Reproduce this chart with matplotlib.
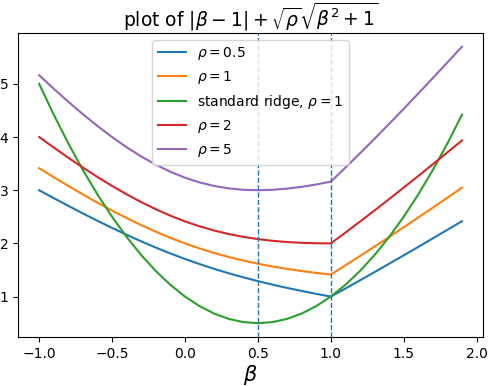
import matplotlib
matplotlib.use("Agg")
import matplotlib.pyplot as plt

beta = [-1.0, -0.9, -0.8, -0.7, -0.6, -0.5, -0.4, -0.3, -0.2, -0.1,
        0.0, 0.1, 0.2, 0.3, 0.4, 0.5, 0.6, 0.7, 0.8, 0.9,
        1.0, 1.1, 1.2, 1.3, 1.4, 1.5, 1.6, 1.7, 1.8, 1.9]

rho_05 = [3.000, 2.851, 2.706, 2.563, 2.425, 2.291, 2.162, 2.038, 1.921, 1.811,
          1.707, 1.611, 1.521, 1.438, 1.362, 1.291, 1.225, 1.163, 1.106, 1.051,
          1.000, 1.151, 1.305, 1.460, 1.617, 1.775, 1.934, 2.095, 2.256, 2.418]
rho_1 = [3.414, 3.245, 3.081, 2.921, 2.766, 2.618, 2.477, 2.344, 2.220, 2.105,
         2.000, 1.905, 1.820, 1.744, 1.677, 1.618, 1.566, 1.521, 1.481, 1.445,
         1.414, 1.587, 1.762, 1.940, 2.120, 2.303, 2.487, 2.672, 2.859, 3.047]
ridge = [5.00, 4.42, 3.88, 3.38, 2.92, 2.50, 2.12, 1.78, 1.48, 1.22,
         1.00, 0.82, 0.68, 0.58, 0.52, 0.50, 0.52, 0.58, 0.68, 0.82,
         1.00, 1.22, 1.48, 1.78, 2.12, 2.50, 2.92, 3.38, 3.88, 4.42]
rho_2 = [4.000, 3.803, 3.611, 3.426, 3.249, 3.081, 2.923, 2.776, 2.642, 2.521,
         2.414, 2.321, 2.242, 2.176, 2.123, 2.081, 2.049, 2.026, 2.011, 2.003,
         2.000, 2.202, 2.409, 2.619, 2.833, 3.050, 3.268, 3.489, 3.712, 3.936]
rho_5 = [5.162, 4.908, 4.664, 4.429, 4.208, 4.000, 3.808, 3.635, 3.480, 3.347,
         3.236, 3.147, 3.080, 3.035, 3.008, 3.000, 3.008, 3.030, 3.064, 3.108,
         3.162, 3.424, 3.693, 3.967, 4.247, 4.531, 4.819, 5.110, 5.404, 5.701]

vlines = [0.5, 1.0]

fig = plt.figure(figsize=(4.88, 3.86), dpi=100)
ax = fig.add_subplot(111)
fig.subplots_adjust(left=0.037, right=0.99, top=0.915, bottom=0.127)

ax.plot(beta, rho_05, label=r'$\rho=0.5$')
ax.plot(beta, rho_1, label=r'$\rho=1$')
ax.plot(beta, ridge, label=r'standard ridge, $\rho=1$')
ax.plot(beta, rho_2, label=r'$\rho=2$')
ax.plot(beta, rho_5, label=r'$\rho=5$')
for v in vlines:
    ax.axvline(v, ls='--', lw=1, color='C0')

ax.set_title(r'plot of $|\beta-1|+\sqrt{\rho}\sqrt{\beta^2+1}$', fontsize=13.5, pad=3)
ax.set_xlabel(r'$\beta$', fontsize=15, labelpad=2)
ax.legend(loc='upper center')
fig.savefig('out.png', dpi=100)
